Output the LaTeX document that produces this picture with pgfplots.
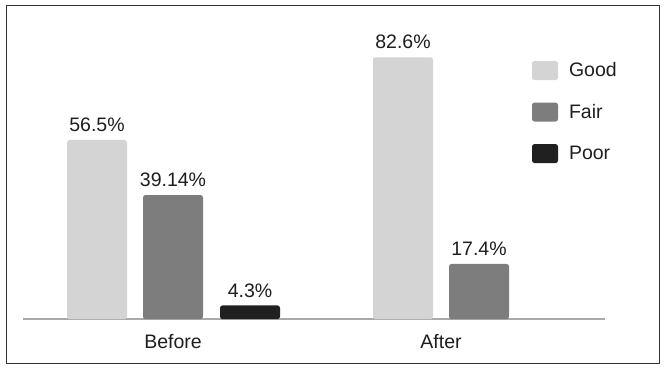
\documentclass[border=0pt]{standalone}
\usepackage{fontspec}
\setmainfont{Liberation Sans}
\usepackage{pgfplots}
\pgfplotsset{compat=1.18}
\definecolor{cgood}{RGB}{212,212,212}
\definecolor{cfair}{RGB}{125,125,125}
\definecolor{cpoor}{RGB}{32,32,32}
\definecolor{ctext}{RGB}{30,30,30}
\definecolor{cbase}{RGB}{170,170,170}
\newcommand{\lblfont}{\fontsize{19.5bp}{23bp}\selectfont}
\begin{document}
\begin{tikzpicture}
\begin{axis}[
  scale only axis, width=665bp, height=369bp,
  xmin=0, xmax=665, ymin=-15.77, ymax=100.63,
  clip=false,
  hide y axis,
  x axis line style={draw=none},
  major tick length=0pt,
  xtick={173,441}, xticklabels={Before,After},
  xticklabel style={anchor=north, inner sep=0pt, yshift=35bp, text=ctext, font=\lblfont},
  ybar, bar width=60bp, bar shift=0pt,
  point meta=explicit symbolic,
  nodes near coords={\pgfplotspointmeta\%},
  every node near coord/.append style={anchor=south, inner sep=0pt, yshift=8bp, text=ctext, font=\lblfont},
  legend image code/.code={\fill[#1, rounded corners=2.5bp] (0bp,-9.5bp) rectangle (26bp,9.5bp);},
  legend cell align=left,
  legend style={draw=none, fill=none, inner sep=0pt, outer sep=0pt,
    at={(axis cs:532,81.4)}, anchor=north west,
    row sep=22.5bp, column sep=11bp,
    nodes={inner sep=0pt, text=ctext, font=\lblfont}},
]
\draw[cbase, line width=1.3bp] (axis cs:23,0) -- (axis cs:605,0);
\addplot[fill=cgood, draw=none, rounded corners=2.5bp] coordinates {(97,56.5) [56.5] (403,82.6) [82.6]};
\addplot[fill=cfair, draw=none, rounded corners=2.5bp] coordinates {(173,39.14) [39.14] (479,17.4) [17.4]};
\addplot[fill=cpoor, draw=none, rounded corners=2.5bp] coordinates {(250,4.3) [4.3]};
\legend{Good,Fair,Poor}
\draw[black!80, line width=1bp] (axis cs:6,-13.88) rectangle (axis cs:659,99.05);
\end{axis}
\end{tikzpicture}
\end{document}
